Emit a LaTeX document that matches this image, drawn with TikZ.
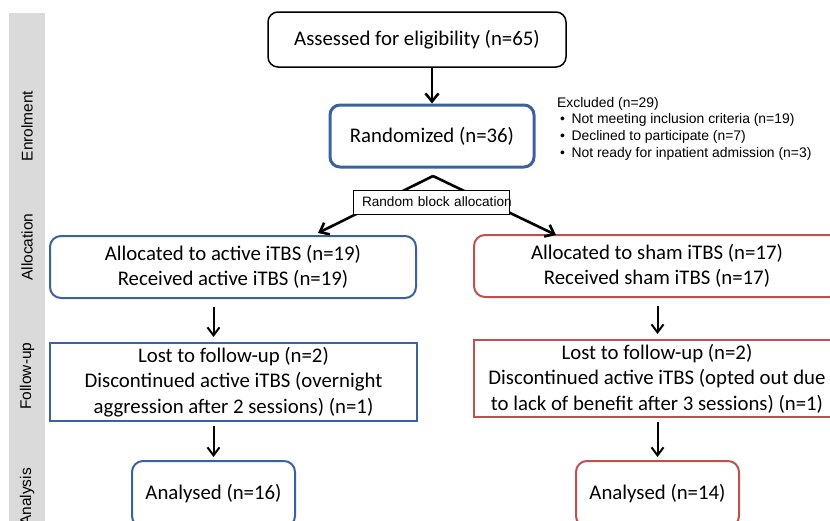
\documentclass[tikz,border=0pt]{standalone}
\usepackage{fontspec}
\setmainfont{Carlito}
\newfontfamily\arial{Liberation Sans}
\usetikzlibrary{arrows.meta}
\definecolor{boxblue}{RGB}{58,98,160}
\definecolor{boxred}{RGB}{192,80,77}
\definecolor{sidegray}{RGB}{218,218,218}
\tikzset{
  box/.style={draw, line width=2pt, align=center, inner sep=0pt,
    font=\fontsize{20.8}{25.5}\selectfont},
  rbox/.style={box, rounded corners=11pt},
  arr/.style={line width=2pt, -{Straight Barb[length=8pt,width=12pt]}},
  thickarr/.style={line width=2.6pt, -{Straight Barb[length=8pt,width=13pt]}},
  sidelabel/.style={rotate=90, font=\arial\fontsize{15.5}{18}\selectfont}
}
\begin{document}
\begin{tikzpicture}[x=1pt,y=-1pt]
\useasboundingbox (0,0) rectangle (830,520);
\clip (0,0) rectangle (830,520);
% side bar
\fill[sidegray] (9,13) rectangle (45,530);
\node[sidelabel] (s1) at (27,126) {Enrolment};
\node[sidelabel] (s2) at (27,247) {Allocation};
\node[sidelabel] (s3) at (27,376) {Follow-up};
\node[sidelabel] (s4) at (27,497) {Analysis};
% boxes
\node[rbox, line width=1.5pt, draw=black, minimum width=298pt, minimum height=55pt, rounded corners=10pt] (b1) at (417,39.5) {Assessed for eligibility (n=65)};
\node[rbox, line width=3pt, draw=boxblue, minimum width=204pt, minimum height=62pt, rounded corners=10pt] (b2) at (432,136) {Randomized (n=36)};
\node[anchor=north west, align=left, inner sep=0pt, font=\arial\fontsize{13.9}{16.7}\selectfont] (ex) at (557,97)
  {Excluded (n=29)\\
   \hspace*{3pt}•\hspace{6.5pt}Not meeting inclusion criteria (n=19)\\
   \hspace*{3pt}•\hspace{6.5pt}Declined to participate (n=7)\\
   \hspace*{3pt}•\hspace{6.5pt}Not ready for inpatient admission (n=3)};
\node[rbox, draw=boxblue, minimum width=366pt, minimum height=62pt] (a1) at (233,267) {Allocated to active iTBS (n=19)\\Received active iTBS (n=19)};
\node[rbox, draw=boxred, minimum width=366pt, minimum height=62pt] (a2) at (657,266) {Allocated to sham iTBS (n=17)\\Received sham iTBS (n=17)};
\node[box, draw=boxblue, minimum width=367pt, minimum height=78pt] (f1) at (233.5,382) {Lost to follow-up (n=2)\\Discontinued active iTBS (overnight\\aggression after 2 sessions) (n=1)};
\node[box, draw=boxred, minimum width=366pt, minimum height=77pt] (f2) at (657,378.5) {Lost to follow-up (n=2)\\Discontinued active iTBS (opted out due\\to lack of benefit after 3 sessions) (n=1)};
\node[rbox, draw=boxblue, minimum width=163pt, minimum height=66pt] (n1) at (213.5,494) {Analysed (n=16)};
\node[rbox, draw=boxred, minimum width=163pt, minimum height=66pt] (n2) at (657.5,494) {Analysed (n=14)};
% arrows
\draw[thickarr] (b1.south -| b2.north) -- (b2.north);
\coordinate (apex) at (433,176);
\coordinate (lt) at (318,233);
\coordinate (rt) at (556,235);
\draw[thickarr] (apex) -- (lt);
\draw[thickarr] (apex) -- (rt);
\node[draw, fill=white, line width=1pt, inner xsep=9pt, inner ysep=0pt, text width=138pt, minimum height=24pt, align=left,
  font=\arial\fontsize{13.6}{15}\selectfont] (rba) at (431,202) {\mbox{Random block allocation}};
\draw[arr] ([yshift=-8pt]a1.south -| n1.north) -- ([yshift=5pt]f1.north -| n1.north);
\draw[arr] ([yshift=-8pt]a2.south -| n2.north) -- ([yshift=5pt]f2.north -| n2.north);
\draw[arr] ([yshift=-4pt]f1.south -| n1.north) -- ([yshift=3pt]n1.north);
\draw[arr] ([yshift=-4pt]f2.south -| n2.north) -- ([yshift=3pt]n2.north);
\end{tikzpicture}
\end{document}
